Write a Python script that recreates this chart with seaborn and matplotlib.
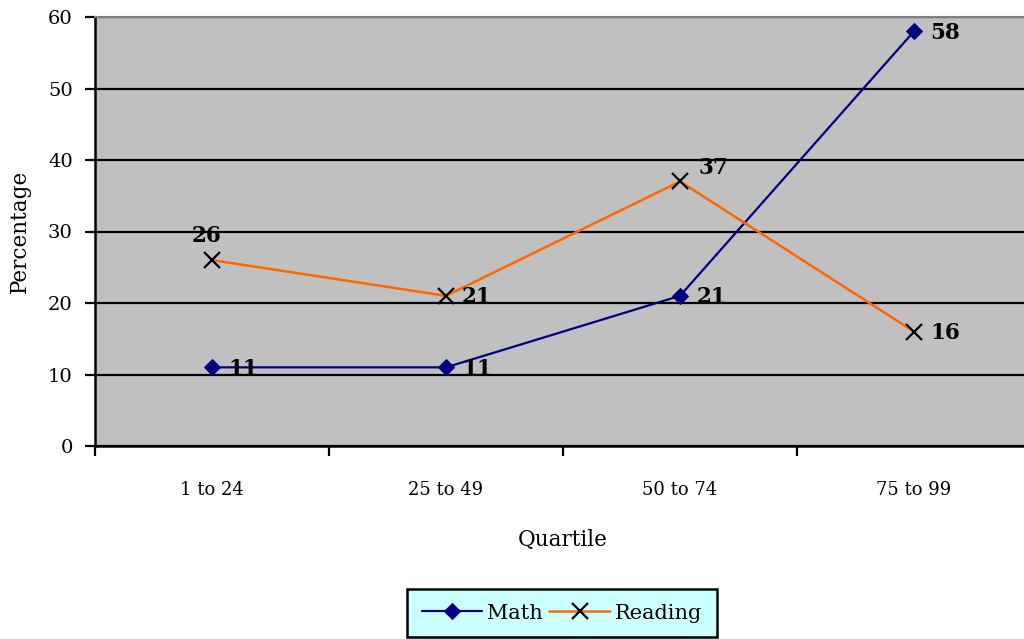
import numpy as np
import pandas as pd
import matplotlib
matplotlib.use("Agg")
import matplotlib.pyplot as plt
import seaborn as sns

quartiles = ["1 to 24", "25 to 49", "50 to 74", "75 to 99"]
math_vals = [11, 11, 21, 58]
reading_vals = [26, 21, 37, 16]

sns.set_theme(style="white")
plt.rcParams['font.family'] = ['DejaVu Serif']
plt.rcParams['text.color'] = 'black'
plt.rcParams['axes.labelcolor'] = 'black'
plt.rcParams['xtick.color'] = 'black'
plt.rcParams['ytick.color'] = 'black'

fig = plt.figure(figsize=(10.24, 6.39), dpi=100)
ax = fig.add_axes([95 / 1024, 1 - 446 / 639, 936 / 1024, 429 / 639])
ax.set_facecolor('#C0C0C0')

df = pd.DataFrame({
    'Quartile': quartiles * 2,
    'Percentage': math_vals + reading_vals,
    'Subject': ['Math'] * 4 + ['Reading'] * 4,
})

sns.lineplot(data=df[df.Subject == 'Math'], x='Quartile', y='Percentage',
             color='#000080', marker='D', markersize=8, linewidth=1.6,
             markeredgecolor='#000080', label='Math', ax=ax, sort=False)
sns.lineplot(data=df[df.Subject == 'Reading'], x='Quartile', y='Percentage',
             color='#FF6600', marker='x', markersize=11, linewidth=1.8,
             markeredgecolor='black', markeredgewidth=1.6, label='Reading',
             ax=ax, sort=False)

# data labels
lab_kw = dict(textcoords='offset points', fontsize=15.5, fontweight='bold', color='black')
for i, v in enumerate(math_vals):
    ax.annotate(str(v), (i, v), xytext=(12, -1), ha='left', va='center', **lab_kw)
reading_offsets = [(-4, 17), (11, -1), (13, 10), (12, -1)]
for i, v in enumerate(reading_vals):
    dx, dy = reading_offsets[i]
    ha = 'center' if i == 0 else 'left'
    ax.annotate(str(v), (i, v), xytext=(dx, dy), ha=ha, va='center', **lab_kw)

ax.set_xlim(-0.5, 3.5)
ax.set_ylim(0, 60)
ax.set_yticks(np.arange(0, 61, 10))
ax.set_xticks(range(4))
ax.set_xticklabels(quartiles)
ax.set_xticks(np.arange(-0.5, 3.6, 1), minor=True)
ax.tick_params(axis='x', which='major', length=0, pad=25, labelsize=13)
ax.tick_params(axis='x', which='minor', length=7, width=1.6, direction='out', color='black', bottom=True)
ax.tick_params(axis='y', length=7, width=1.6, direction='out', color='black', left=True, labelsize=14, pad=9)

ax.grid(axis='y', color='black', linewidth=1.6)
ax.grid(axis='x', visible=False)
ax.set_axisbelow(True)

for s in ['left', 'bottom']:
    ax.spines[s].set_color('black')
    ax.spines[s].set_linewidth(1.8)
ax.spines['top'].set_color('#808080')
ax.spines['top'].set_linewidth(1.5)
ax.spines['right'].set_visible(False)

ax.set_xlabel('Quartile', fontsize=15.5, labelpad=22)
ax.set_ylabel('Percentage', fontsize=15.5, labelpad=12)

ax.get_legend().remove()
handles, labels = ax.get_legend_handles_labels()
leg = fig.legend(handles, labels, loc='upper center', ncol=2,
                 bbox_to_anchor=(562 / 1024, 1 - 589 / 639), frameon=True,
                 fontsize=15, fancybox=False, handlelength=2.9,
                 columnspacing=0.3, handletextpad=0.25, borderpad=0.7,
                 borderaxespad=0)
leg.get_frame().set_facecolor('#CCFFFF')
leg.get_frame().set_edgecolor('black')
leg.get_frame().set_linewidth(1.8)
leg.get_frame().set_alpha(1)

fig.savefig('out.png', dpi=100)
